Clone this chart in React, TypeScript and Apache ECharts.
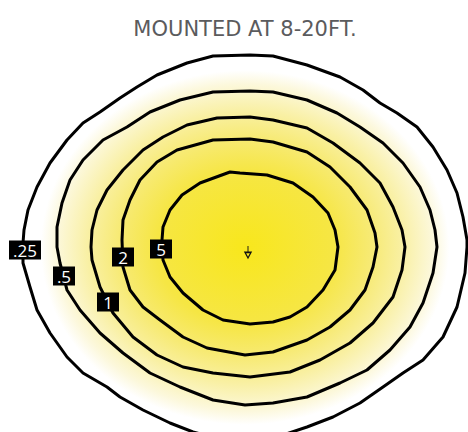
import React, { useEffect, useRef } from "react";
import * as echarts from "echarts";

const title = "MOUNTED AT 8-20FT.";
const levelLabels = [".25", ".5", "1", "2", "5"];

// contour outlines, units relative to the luminaire (x right, y up)
const contour025 = [
  [219, 1], [217, -25], [209, -59], [195, -89], [175, -112], [155, -125], [135, -139], [112, -155],
  [85, -169], [59, -179], [32, -188], [2, -192], [-28, -191], [-55, -184], [-78, -175], [-105, -162],
  [-128, -149], [-141, -139], [-165, -125], [-181, -109], [-198, -85], [-211, -62], [-218, -39],
  [-225, -15], [-225, 5], [-224, 18], [-220, 38], [-211, 61], [-198, 85], [-181, 108], [-165, 125],
  [-148, 136], [-128, 150], [-111, 161], [-91, 173], [-61, 185], [-35, 192], [2, 193], [25, 192],
  [59, 183], [92, 171], [115, 158], [132, 145], [149, 135], [169, 121], [185, 101], [199, 78],
  [209, 55], [215, 31], [219, 8],
];
const contour05 = [
  [189, 1], [185, -25], [175, -55], [162, -79], [142, -102], [119, -122], [92, -135], [59, -149],
  [25, -155], [-3, -157], [-35, -152], [-68, -139], [-98, -125], [-125, -105], [-148, -85],
  [-168, -62], [-181, -42], [-188, -15], [-191, 1], [-191, 21], [-186, 45], [-178, 68], [-165, 88],
  [-145, 108], [-121, 121], [-98, 136], [-68, 148], [-35, 156], [2, 157], [25, 156], [59, 148],
  [89, 135], [112, 121], [135, 105], [155, 85], [172, 61], [182, 38], [187, 18],
];
const contour1 = [
  [157, 1], [154, -22], [145, -49], [125, -75], [102, -95], [72, -112], [42, -124], [2, -129],
  [-35, -125], [-65, -119], [-91, -107], [-115, -89], [-135, -65], [-148, -39], [-156, -12],
  [-157, 1], [-156, 18], [-151, 38], [-141, 58], [-125, 78], [-105, 98], [-85, 111], [-61, 123],
  [-31, 130], [2, 131], [25, 128], [59, 120], [85, 105], [112, 85], [132, 65], [145, 41], [154, 18],
];
const contour2 = [
  [129, 1], [125, -19], [117, -42], [102, -62], [82, -79], [59, -92], [25, -104], [-3, -107],
  [-41, -100], [-65, -89], [-88, -72], [-105, -59], [-118, -42], [-125, -19], [-126, 8], [-125, 28],
  [-118, 48], [-108, 68], [-91, 86], [-71, 98], [-35, 108], [2, 109], [25, 106], [59, 96], [82, 81],
  [102, 61], [119, 38], [127, 15],
];
const contour5 = [
  [90, 1], [87, -22], [75, -42], [59, -59], [42, -69], [25, -74], [2, -76], [-25, -72], [-45, -62],
  [-65, -45], [-78, -29], [-85, -12], [-86, 8], [-85, 21], [-78, 38], [-66, 53], [-48, 65],
  [-18, 76], [-8, 75], [19, 73], [45, 65], [65, 51], [80, 35], [87, 18],
];
const contours = [contour025, contour05, contour1, contour2, contour5];

// where each level label sits on its contour
const labelAnchors = [
  [-223, -2], [-184, -28], [-140, -54], [-125, -9], [-87, -1],
];
const luminaire = [[0, -4]];

export default function App() {
  const ref = useRef<HTMLDivElement>(null);
  useEffect(() => {
    if (!ref.current) return;
    const chart = echarts.init(ref.current, undefined, { renderer: "svg" });
    const glow = {
      type: "radial",
      x: 0.5,
      y: 0.5,
      r: 0.5,
      colorStops: [
        { offset: 0, color: "#F8E71C" },
        { offset: 0.4, color: "#F6E644" },
        { offset: 0.57, color: "#F7EA74" },
        { offset: 0.71, color: "#F9F0A4" },
        { offset: 0.85, color: "#FCF8DC" },
        { offset: 0.92, color: "#FFFFFF" },
        { offset: 1, color: "#FFFFFF" },
      ],
    };
    chart.setOption({
      animation: false,
      title: {
        text: title,
        left: 240,
        textAlign: "center",
        top: 13,
        textStyle: {
          fontFamily: "DejaVu Sans",
          fontSize: 21,
          fontWeight: "normal",
          color: "#5b5b5d",
        },
      },
      grid: { left: 0, right: 0, top: 0, bottom: 0 },
      xAxis: { type: "value", min: -248, max: 220, show: false },
      yAxis: { type: "value", min: -184, max: 248, show: false },
      series: [
        {
          type: "custom",
          coordinateSystem: "cartesian2d",
          data: [[0]],
          z: 1,
          renderItem: (params: any, api: any) => {
            const pts = contours[0].map((p) => api.coord(p));
            return {
              type: "polygon",
              shape: { points: pts },
              style: { fill: glow, stroke: "none" },
            };
          },
        },
        {
          type: "custom",
          coordinateSystem: "cartesian2d",
          data: contours.map((_, i) => [i]),
          z: 2,
          renderItem: (params: any, api: any) => {
            const idx = api.value(0);
            const pts = contours[idx].map((p) => api.coord(p));
            return {
              type: "polygon",
              shape: { points: pts },
              style: { fill: "none", stroke: "#000", lineWidth: 3, lineJoin: "round" },
            };
          },
        },
        {
          type: "scatter",
          z: 3,
          symbol: "path://M5 0 L5 8 M1 8 L9 8 L5 15 Z",
          symbolSize: [6, 12],
          itemStyle: { color: "rgba(0,0,0,0)", borderColor: "#111", borderWidth: 1.3, opacity: 1 },
          data: luminaire,
        },
        {
          type: "scatter",
          z: 4,
          symbolSize: 1,
          itemStyle: { color: "rgba(0,0,0,0)", opacity: 1 },
          data: labelAnchors.map((p, i) => ({
            value: [p[0], p[1], levelLabels[i]],
            label: { width: levelLabels[i].length > 2 ? 26 : 16 },
          })),
          label: {
            show: true,
            position: "inside",
            formatter: (p: any) => p.value[2],
            color: "#fff",
            backgroundColor: "#000",
            fontFamily: "Open Sans",
            fontSize: 17,
            padding: [1, 3, 0, 3],
            width: 16,
            align: "center",
            verticalAlign: "middle",
            lineHeight: 18,
          },
        },
      ],
    });
    return () => chart.dispose();
  }, []);
  return (
    <div
      ref={ref}
      style={{ position: "absolute", left: 0, top: 0, width: 468, height: 432 }}
    />
  );
}
